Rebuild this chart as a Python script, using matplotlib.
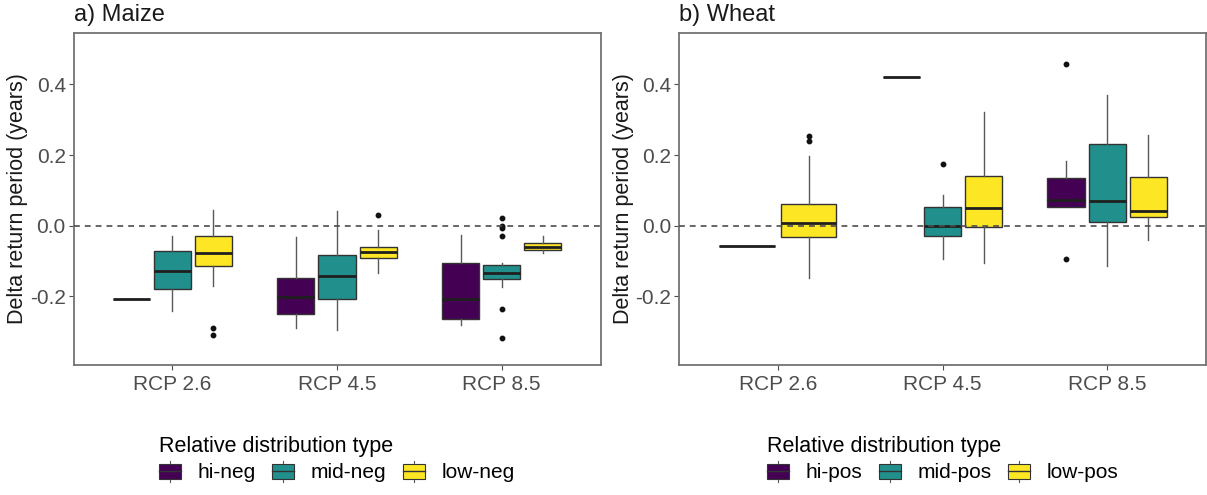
import matplotlib
matplotlib.use("Agg")
import matplotlib.pyplot as plt
from matplotlib.patches import Rectangle, Patch
from matplotlib.lines import Line2D
from matplotlib.legend_handler import HandlerBase

plt.rcParams['font.family'] = ['Liberation Sans', 'DejaVu Sans']

rcp_labels = ['RCP 2.6', 'RCP 4.5', 'RCP 8.5']
colors = ['#440154', '#21908C', '#FDE725']

# ---- a) Maize, rows = hi/mid/low-neg, cols = RCP 2.6/4.5/8.5
maize_types = ['hi-neg', 'mid-neg', 'low-neg']
maize_med = [[-0.206, -0.201, -0.206],
             [-0.129, -0.142, -0.133],
             [-0.078, -0.074, -0.059]]
maize_q1 = [[-0.206, -0.249, -0.265],
            [-0.180, -0.208, -0.151],
            [-0.115, -0.092, -0.069]]
maize_q3 = [[-0.206, -0.148, -0.105],
            [-0.071, -0.083, -0.111],
            [-0.029, -0.059, -0.048]]
maize_wlo = [[-0.206, -0.289, -0.281],
             [-0.241, -0.295, -0.174],
             [-0.170, -0.135, -0.076]]
maize_whi = [[-0.206, -0.031, -0.026],
             [-0.028, 0.042, -0.106],
             [0.044, -0.013, -0.029]]
maize_fliers = [[[], [], []],
                [[], [], [0.021, -0.001, -0.006, -0.029, -0.235, -0.318]],
                [[-0.289, -0.309], [0.030], []]]

# ---- b) Wheat, rows = hi/mid/low-pos (no mid-pos for RCP 2.6)
wheat_types = ['hi-pos', 'mid-pos', 'low-pos']
wheat_med = [[-0.058, 0.422, 0.073],
             [None, 0.000, 0.071],
             [0.009, 0.051, 0.042]]
wheat_q1 = [[-0.058, 0.422, 0.052],
            [None, -0.028, 0.011],
            [-0.031, -0.003, 0.025]]
wheat_q3 = [[-0.058, 0.422, 0.135],
            [None, 0.052, 0.231],
            [0.063, 0.141, 0.139]]
wheat_wlo = [[-0.058, 0.422, 0.052],
             [None, -0.095, -0.113],
             [-0.149, -0.104, -0.041]]
wheat_whi = [[-0.058, 0.422, 0.184],
             [None, 0.087, 0.370],
             [0.198, 0.322, 0.258]]
wheat_fliers = [[[], [], [0.459, -0.095]],
                [None, [0.175], []],
                [[0.254, 0.241], [], []]]


class BoxKey(HandlerBase):
    # little boxplot glyph like ggplot's legend key
    def create_artists(self, legend, orig_handle, xdescent, ydescent,
                       width, height, fontsize, trans):
        x0, y0 = -xdescent, -ydescent
        stub = height * 0.14
        fc = orig_handle.get_facecolor()
        wl = Line2D([x0 + width / 2] * 2, [y0, y0 + stub], color='#595959', lw=0.8, transform=trans)
        wh = Line2D([x0 + width / 2] * 2, [y0 + height - stub, y0 + height], color='#595959', lw=0.8, transform=trans)
        rect = Rectangle((x0, y0 + stub), width, height - 2 * stub, facecolor=fc,
                         edgecolor='#333333', lw=0.8, transform=trans)
        med = Line2D([x0, x0 + width], [y0 + height / 2] * 2, color='#333333', lw=1.0, transform=trans)
        return [wl, wh, rect, med]


def draw_panel(ax, q1, med, q3, wlo, whi, fliers):
    for g in range(3):
        present = [t for t in range(3) if med[t][g] is not None]
        slot = 0.75 / len(present)
        for k, t in enumerate(present):
            pos = g + 1 - 0.375 + slot * (k + 0.5)
            st = dict(med=med[t][g], q1=q1[t][g], q3=q3[t][g],
                      whislo=wlo[t][g], whishi=whi[t][g], fliers=fliers[t][g])
            ax.bxp([st], positions=[pos], widths=[slot * 0.9], patch_artist=True,
                   showcaps=False, manage_ticks=False,
                   boxprops=dict(facecolor=colors[t], edgecolor='#333333', linewidth=1.0),
                   medianprops=dict(color='#1f1f1f', linewidth=2.0),
                   whiskerprops=dict(color='#595959', linewidth=1.0),
                   flierprops=dict(marker='o', markersize=3.2, markerfacecolor='#111111',
                                   markeredgecolor='#111111', linestyle='none'))
    ax.axhline(0, color='#4d4d4d', lw=1.2, ls=(0, (3.5, 3)), zorder=5)
    ax.set_xlim(0.4, 3.6)
    ax.set_ylim(-0.394, 0.547)
    ax.set_xticks([1, 2, 3])
    ax.set_xticklabels(rcp_labels)
    ax.set_yticks([-0.2, 0.0, 0.2, 0.4])
    ax.set_yticklabels(['-0.2', '0.0', '0.2', '0.4'])
    ax.tick_params(labelsize=15, labelcolor='#4D4D4D', color='#4D4D4D', length=3.5, width=0.8)
    ax.tick_params(axis='x', pad=4)
    ax.tick_params(axis='y', pad=2)
    for s in ax.spines.values():
        s.set_color('#737373')
        s.set_linewidth(1.3)


fig = plt.figure(figsize=(12.07, 4.95), dpi=100)
W, H = 1207, 495
ax1 = fig.add_axes([73.5 / W, 130 / H, 527 / W, 332.5 / H])
ax2 = fig.add_axes([679 / W, 130 / H, 527 / W, 332.5 / H])

draw_panel(ax1, maize_q1, maize_med, maize_q3, maize_wlo, maize_whi, maize_fliers)
draw_panel(ax2, wheat_q1, wheat_med, wheat_q3, wheat_wlo, wheat_whi, wheat_fliers)

for ax, title, ylx, types in [(ax1, 'a) Maize', 18, maize_types), (ax2, 'b) Wheat', 623, wheat_types)]:
    x0 = ax.get_position().x0
    fig.text(x0, 1 - 15 / H, title, fontsize=17, ha='left', va='center', color='#1a1a1a')
    fig.text(ylx / W, 1 - 198.75 / H, 'Delta return period (years)', fontsize=15.5,
             rotation=90, ha='center', va='center', color='#1a1a1a')
    pos = ax.get_position()
    handles = [Patch(facecolor=c) for c in colors]
    fig.legend(handles, types, handler_map={Patch: BoxKey()}, ncol=3,
               title='Relative distribution type', loc='center',
               bbox_to_anchor=((pos.x0 + pos.x1) / 2, 1 - 459 / H),
               frameon=False, fontsize=15, title_fontsize=15.5, alignment='left',
               handlelength=1.05, handleheight=1.2, handletextpad=0.8,
               columnspacing=0.8, borderpad=0, labelspacing=0.2)

fig.savefig('out.png', dpi=100)
